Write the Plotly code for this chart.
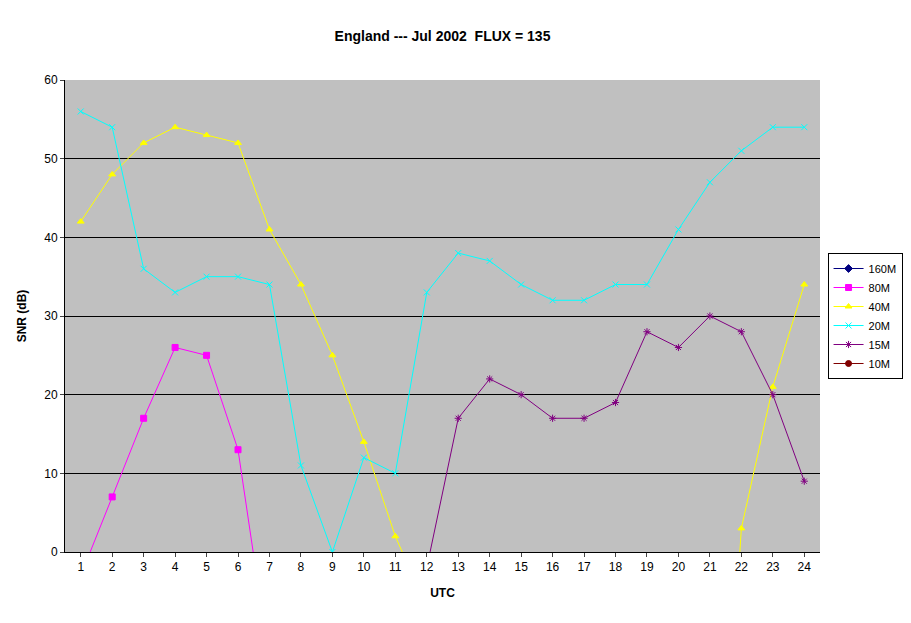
import plotly.graph_objects as go

hours = list(range(1, 25))
N = None
snr_160m = [N]*24
snr_80m = [-3, 7, 17, 26, 25, 13, -14] + [N]*17
snr_40m = [42, 48, 52, 54, 53, 52, 41, 34, 25, 14, 2, -7, N, N, N, N, N, N, N, N, -60, 3, 21, 34]
snr_20m = [56, 54, 36, 33, 35, 35, 34, 11, 0, 12, 10, 33, 38, 37, 34, 32, 32, 34, 34, 41, 47, 51, 54, 54]
snr_15m = [N]*11 + [-2, 17, 22, 20, 17, 17, 19, 28, 26, 30, 28, 20, 9]
snr_10m = [N]*24

series = [
    ("160M", snr_160m, "#000080", "diamond"),
    ("80M", snr_80m, "#FF00FF", "square"),
    ("40M", snr_40m, "#FFFF00", "triangle-up"),
    ("20M", snr_20m, "#00FFFF", "x-thin"),
    ("15M", snr_15m, "#800080", "asterisk"),
    ("10M", snr_10m, "#800000", "circle"),
]

fig = go.Figure()
for name, vals, col, sym in series:
    fig.add_trace(go.Scatter(
        x=hours, y=vals, name=name, mode="lines+markers", connectgaps=False,
        line=dict(color=col, width=1),
        marker=dict(symbol=sym, size=6, color=col, line=dict(color=col, width=1)),
        cliponaxis=True))

fig.update_layout(
    width=911, height=623,
    margin=dict(l=57, r=99, t=72, b=79),
    paper_bgcolor="white", plot_bgcolor="#C0C0C0",
    font=dict(family="Liberation Sans, Arial", size=12, color="black"),
    title=dict(text="<b>England --- Jul 2002  FLUX = 135</b>", x=0.5, xref="paper",
               y=0.955, yanchor="middle", font=dict(size=14)),
    showlegend=True,
    legend=dict(x=1.01, y=0.5, yanchor="middle", xanchor="left",
                bordercolor="black", borderwidth=1, bgcolor="white",
                font=dict(size=11), tracegroupgap=0),
    xaxis=dict(range=[0.5, 24.5], tickvals=hours, showgrid=False, zeroline=False,
               showline=True, linecolor="black", ticks="outside", ticklen=4,
               automargin=False,
               title=dict(text="<b>UTC</b>", font=dict(size=12))),
    yaxis=dict(range=[0, 60], dtick=10, showgrid=True, gridcolor="black", gridwidth=1,
               zeroline=False, showline=True, linecolor="black", ticks="outside", ticklen=4,
               automargin=False,
               title=dict(text="<b>SNR (dB)</b>", font=dict(size=12))),
)
fig.write_html("out.html")
